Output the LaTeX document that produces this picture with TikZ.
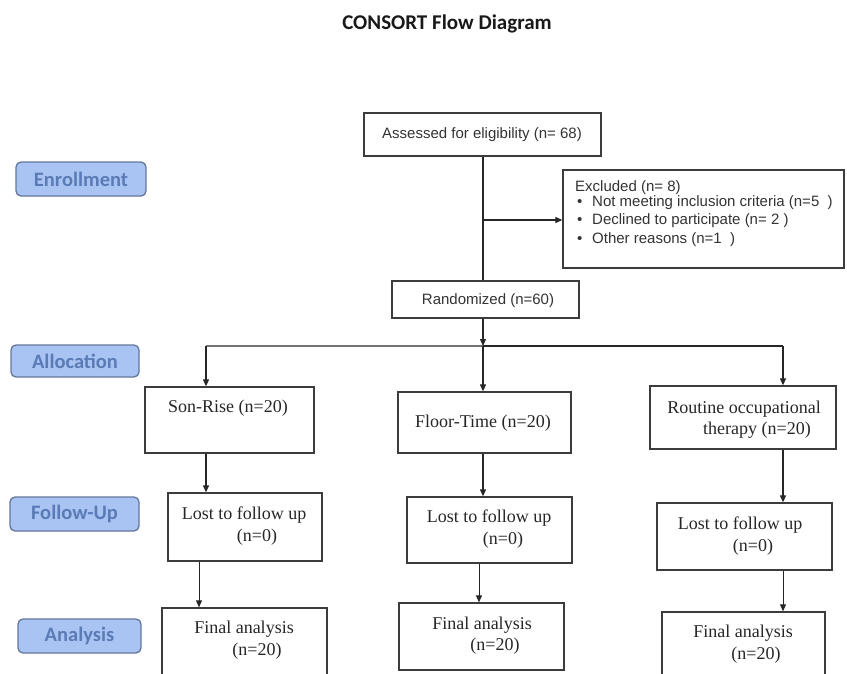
\documentclass[tikz,border=0pt]{standalone}
\usepackage{fontspec}
\setmainfont{Liberation Serif}
\newfontfamily\arialf{Liberation Sans}
\newfontfamily\calibrif{Carlito}
\usetikzlibrary{arrows.meta}
\definecolor{lblfill}{HTML}{A9C3F3}
\definecolor{lbldraw}{HTML}{63779A}
\definecolor{lbltext}{HTML}{5A7BB5}
\definecolor{boxdraw}{HTML}{3C3C3C}
\definecolor{txtgray}{HTML}{333333}
\begin{document}
\begin{tikzpicture}[x=1pt,y=-1pt,
  box/.style={draw=boxdraw,line width=1.3pt,inner sep=0pt},
  lbl/.style={draw=lbldraw,fill=lblfill,line width=1.3pt,rounded corners=5pt,inner sep=0pt,
    font=\calibrif\bfseries\fontsize{20.5}{24}\selectfont,text=lbltext},
  sanstxt/.style={font=\arialf\fontsize{15}{18}\selectfont,text=txtgray,inner sep=0pt},
  sertxt/.style={font=\fontsize{18}{21}\selectfont,text=black!85,inner sep=0pt},
  conn/.style={draw=black!85,line width=1.2pt},
  arr/.style={conn,-{Triangle[length=7pt,width=6pt]}},
  thinarr/.style={draw=black!85,line width=0.9pt,-{Triangle[length=7pt,width=6pt]}}
]
\useasboundingbox (0,0) rectangle (847,673);
\clip (0,0) rectangle (847,673);

% title
\node[font=\calibrif\bfseries\fontsize{21}{25}\selectfont,text=black!90,inner sep=0pt] (title) at (447,24) {CONSORT Flow Diagram};

% stage labels
\node[lbl,minimum width=130pt,minimum height=34pt] (enroll) at (81,179) {Enrollment};
\node[lbl,minimum width=128pt,minimum height=32pt] (alloc) at (75,361) {Allocation};
\node[lbl,minimum width=129pt,minimum height=34pt] (follow) at (74.5,514) {Follow-Up};
\node[lbl,minimum width=123pt,minimum height=34pt] (analysis) at (79.5,636) {Analysis};

% column x positions
\coordinate (cm) at (483,0);
\coordinate (c1) at (206,0);
\coordinate (c1b) at (199,0);
\coordinate (c2b) at (479,0);
\coordinate (c3) at (783,0);

% top boxes
\node[box,minimum width=237pt,minimum height=43pt] (assess) at (482.5,134.5) {};
\node[sanstxt] (assesst) at (482,135) {Assessed for eligibility (n= 68)};

\node[box,minimum width=281pt,minimum height=98pt] (excl) at (703.5,219) {};
\node[sanstxt,anchor=west] (exclt) at (575,188) {Excluded (n= 8)};
\node[sanstxt,anchor=west] (b1) at (577,203) {•};
\node[sanstxt,anchor=west] (b2) at (577,221) {•};
\node[sanstxt,anchor=west] (b3) at (577,240) {•};
\node[sanstxt,anchor=west] (e1) at (592,203) {Not meeting inclusion criteria (n=5~~)};
\node[sanstxt,anchor=west] (e2) at (592,221) {Declined to participate (n= 2 )};
\node[sanstxt,anchor=west] (e3) at (592,240) {Other reasons (n=1~~)};

\node[box,minimum width=187pt,minimum height=37pt] (rand) at (485.5,299.5) {};
\node[sanstxt] (randt) at (488,301) {Randomized (n=60)};

% connectors top
\draw[conn] (assess.south -| cm) -- (rand.north -| cm);
\coordinate (exclfrom) at (483,220);
\draw[arr] (exclfrom) -- (exclfrom -| excl.west);

\coordinate (split) at (483,346);
\coordinate (bl) at (206,346);
\coordinate (br) at (783,346);
\draw[arr] (rand.south -| cm) -- (split);
\draw[conn,draw=black!55] (bl) -- (split);
\draw[conn] (split) -- (br);

% allocation boxes
\node[box,minimum width=169pt,minimum height=66pt] (son) at (229.5,420) {};
\node[sertxt] (sont) at (228,408) {Son-Rise (n=20)};
\node[box,minimum width=173pt,minimum height=61pt] (floor) at (484.5,422.5) {};
\node[sertxt] (floort) at (483,423) {Floor-Time (n=20)};
\node[box,minimum width=186pt,minimum height=63pt] (rout) at (743,417.5) {};
\node[sertxt] (routt1) at (744,409) {Routine occupational};
\node[sertxt] (routt2) at (757,430) {therapy (n=20)};

\draw[arr] (bl) -- (son.north -| bl);
\draw[arr] (split) -- (floor.north -| split);
\draw[arr] (br) -- (rout.north -| br);

% follow-up boxes
\node[box,minimum width=154pt,minimum height=68pt] (lost1) at (245,527) {};
\node[sertxt] (lost1a) at (244,515) {Lost to follow up};
\node[sertxt] (lost1b) at (257,537) {(n=0)};
\node[box,minimum width=165pt,minimum height=66pt] (lost2) at (489.5,530) {};
\node[sertxt] (lost2a) at (489,518) {Lost to follow up};
\node[sertxt] (lost2b) at (503,540) {(n=0)};
\node[box,minimum width=175pt,minimum height=67pt] (lost3) at (744.5,536.5) {};
\node[sertxt] (lost3a) at (740,525) {Lost to follow up};
\node[sertxt] (lost3b) at (753,547) {(n=0)};

\draw[arr] (son.south -| c1) -- (lost1.north -| c1);
\draw[arr] (floor.south -| cm) -- (lost2.north -| cm);
\draw[arr] (rout.south -| c3) -- (lost3.north -| c3);

% analysis boxes
\node[box,minimum width=165pt,minimum height=82pt] (fin1) at (244.5,649) {};
\node[sertxt] (fin1a) at (244,629) {Final analysis};
\node[sertxt] (fin1b) at (257,651) {(n=20)};
\node[box,minimum width=165pt,minimum height=67pt] (fin2) at (481.5,636.5) {};
\node[sertxt] (fin2a) at (482,625) {Final analysis};
\node[sertxt] (fin2b) at (495,646) {(n=20)};
\node[box,minimum width=163pt,minimum height=78pt] (fin3) at (743.5,651) {};
\node[sertxt] (fin3a) at (743,633) {Final analysis};
\node[sertxt] (fin3b) at (756,655) {(n=20)};

\draw[thinarr] (lost1.south -| c1b) -- (fin1.north -| c1b);
\draw[thinarr] (lost2.south -| c2b) -- (fin2.north -| c2b);
\draw[thinarr] (lost3.south -| c3) -- (fin3.north -| c3);
\end{tikzpicture}
\end{document}
